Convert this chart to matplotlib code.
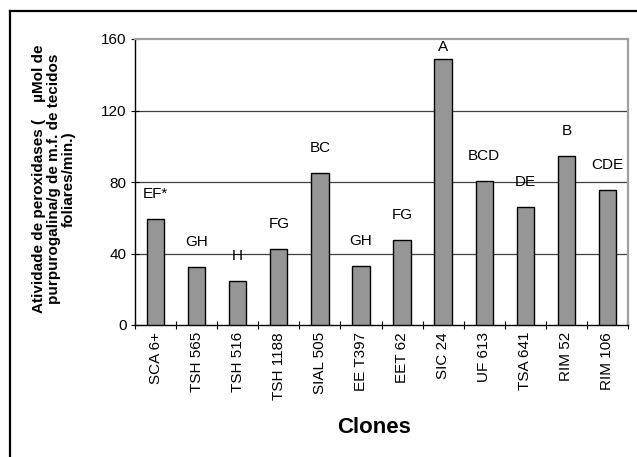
import matplotlib
matplotlib.use("Agg")
import matplotlib.pyplot as plt
from matplotlib.lines import Line2D
import numpy as np

plt.rcParams["font.family"] = ["Liberation Sans", "DejaVu Sans"]

# Data
CLONES = ["SCA 6+", "TSH 565", "TSH 516", "TSH 1188", "SIAL 505", "EE T397",
          "EET 62", "SIC 24", "UF 613", "TSA 641", "RIM 52", "RIM 106"]
ACTIVITY = [59.3, 32.3, 24.4, 42.5, 85.0, 33.2, 47.4, 148.8, 80.6, 66.2, 94.5, 75.5]
GROUPS = ["EF*", "GH", "H", "FG", "BC", "GH", "FG", "A", "BCD", "DE", "B", "CDE"]
Y_TICKS = [0, 40, 80, 120, 160]

W, H = 637, 457
fig = plt.figure(figsize=(W / 100, H / 100), dpi=100)
ax = fig.add_axes([135 / W, 1 - 325 / H, (628 - 135) / W, (325 - 39) / H])

x = np.arange(len(CLONES))
bars = ax.bar(x, ACTIVITY, width=0.42, color="#969696", edgecolor="black",
              linewidth=1.0, zorder=3)

# significance letters above bars
for i, (v, g) in enumerate(zip(ACTIVITY, GROUPS)):
    off = 9 if v == max(ACTIVITY) else 18
    ax.annotate(g, (i, v), xytext=(0, off), textcoords="offset points",
                ha="center", va="center", fontsize=11)

ax.set_xlim(-0.5, len(CLONES) - 0.5)
ax.set_ylim(0, 160)
ax.set_yticks(Y_TICKS)
ax.set_yticklabels([str(t) for t in Y_TICKS], fontsize=11)
for t in Y_TICKS[1:-1]:
    ax.axhline(t, color="#404040", linewidth=0.9, zorder=1)

# x ticks between categories, labels centred under bars
ax.set_xticks(np.arange(len(CLONES) + 1) - 0.5)
ax.set_xticklabels([])
ax.set_xticks(x, minor=True)
ax.set_xticklabels(CLONES, minor=True, rotation=90, fontsize=11)
ax.tick_params(axis="x", which="minor", length=0, pad=5)
ax.tick_params(axis="x", which="major", direction="inout", length=6, width=0.8)
ax.tick_params(axis="y", direction="inout", length=6, width=0.8, pad=3)

for side in ("top", "right"):
    ax.spines[side].set_color("#a0a0a0")
    ax.spines[side].set_linewidth(1.6)
for side in ("left", "bottom"):
    ax.spines[side].set_color("black")
    ax.spines[side].set_linewidth(1.0)

ax.set_xlabel("Clones", fontsize=16, fontweight="bold")
ax.xaxis.set_label_coords(0.484, -0.322)
ax.set_ylabel("Atividade de peroxidases (    µMol de\n"
              "purpurogalina/g de m.f. de tecidos\nfoliares/min.)",
              fontsize=11, fontweight="bold", linespacing=1.1)
ax.yaxis.set_label_coords(-0.12, 0.51)

# outer chart frame (left and top edges only visible)
fig.add_artist(Line2D([10 / W, 10 / W], [0, 1 - 11 / H], transform=fig.transFigure,
                      color="black", linewidth=1.6))
fig.add_artist(Line2D([10 / W, 1], [1 - 11 / H, 1 - 11 / H], transform=fig.transFigure,
                      color="black", linewidth=1.6))

fig.savefig("out.png", dpi=100)
